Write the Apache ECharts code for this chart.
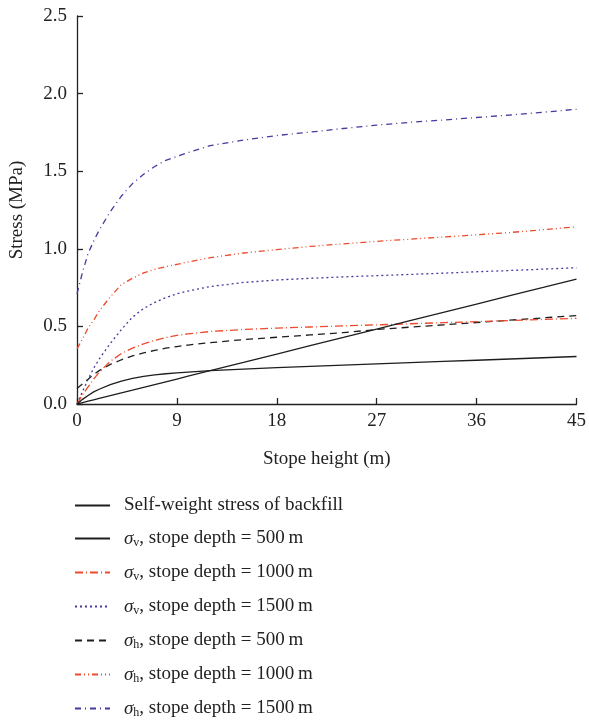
<!DOCTYPE html>
<html>
<head>
<meta charset="utf-8">
<script src="https://cdn.jsdelivr.net/npm/echarts@6/dist/echarts.min.js"></script>
<style>
html,body{margin:0;padding:0;background:#fff;}
#chart{width:589px;height:720px;}
</style>
</head>
<body>
<div id="chart"></div>
<script>
// Stope height (m)
const heights = [0, 0.5, 1, 1.5, 2, 3, 4, 5, 6, 7, 8, 9, 10, 12, 15, 18, 21, 24, 27, 30, 33, 36, 39, 42, 45];
// Stress (MPa)
const selfWeight = [0, 0.009, 0.018, 0.027, 0.036, 0.054, 0.072, 0.089, 0.107, 0.125, 0.143, 0.161, 0.179, 0.215, 0.268, 0.322, 0.376, 0.429, 0.483, 0.537, 0.590, 0.644, 0.698, 0.751, 0.805];
const sv500  = [0, 0.030, 0.055, 0.078, 0.095, 0.125, 0.148, 0.165, 0.178, 0.188, 0.195, 0.201, 0.206, 0.215, 0.225, 0.235, 0.243, 0.250, 0.258, 0.266, 0.274, 0.282, 0.290, 0.298, 0.306];
const sv1000 = [0, 0.060, 0.110, 0.160, 0.205, 0.275, 0.325, 0.360, 0.388, 0.410, 0.428, 0.442, 0.452, 0.467, 0.480, 0.489, 0.496, 0.503, 0.510, 0.517, 0.524, 0.531, 0.538, 0.545, 0.552];
const sv1500 = [0, 0.080, 0.160, 0.230, 0.290, 0.390, 0.480, 0.560, 0.615, 0.655, 0.685, 0.710, 0.728, 0.757, 0.783, 0.799, 0.810, 0.819, 0.827, 0.835, 0.843, 0.852, 0.860, 0.869, 0.878];
const sh500  = [0.100, 0.130, 0.160, 0.190, 0.215, 0.255, 0.285, 0.310, 0.330, 0.345, 0.360, 0.370, 0.380, 0.395, 0.415, 0.430, 0.445, 0.460, 0.480, 0.495, 0.510, 0.525, 0.540, 0.555, 0.570];
const sh1000 = [0.355, 0.420, 0.490, 0.540, 0.600, 0.690, 0.770, 0.810, 0.845, 0.868, 0.885, 0.900, 0.915, 0.943, 0.973, 0.995, 1.015, 1.032, 1.048, 1.062, 1.076, 1.090, 1.105, 1.123, 1.142];
const sh1500 = [0.710, 0.850, 0.970, 1.050, 1.120, 1.240, 1.340, 1.420, 1.480, 1.530, 1.570, 1.595, 1.620, 1.665, 1.700, 1.730, 1.752, 1.775, 1.797, 1.815, 1.830, 1.846, 1.862, 1.880, 1.899];
// X and Y tick labels
const xTicks = [0, 9, 18, 27, 36, 45];
const yTicks = ['0.0', '0.5', '1.0', '1.5', '2.0', '2.5'];

const seriesNames = ['self', 'sv500', 'sv1000', 'sv1500', 'sh500', 'sh1000', 'sh1500'];
const legendTexts = {
  self: 'Self-weight stress of backfill',
  sv500: '{sig|σ}{sub|v}, stope depth = 500\u2009m',
  sv1000: '{sig|σ}{sub|v}, stope depth = 1000\u2009m',
  sv1500: '{sig|σ}{sub|v}, stope depth = 1500\u2009m',
  sh500: '{sig|σ}{sub|h}, stope depth = 500\u2009m',
  sh1000: '{sig|σ}{sub|h}, stope depth = 1000\u2009m',
  sh1500: '{sig|σ}{sub|h}, stope depth = 1500\u2009m'
};
const seriesValues = [selfWeight, sv500, sv1000, sv1500, sh500, sh1000, sh1500];

const BLACK = '#1e1e1e', RED = '#ee4a2c', BLUE = '#433b9e';
const styles = [
  {color: BLACK, type: 'solid'},
  {color: BLACK, type: 'solid'},
  {color: RED, type: [8, 3, 1, 3]},
  {color: BLUE, type: [2, 3]},
  {color: BLACK, type: [7, 5]},
  {color: RED, type: [6, 3, 1, 3, 1, 3]},
  {color: BLUE, type: [6, 4, 1, 4]}
];

const FONT = '"Liberation Serif", "DejaVu Serif", serif';

const series = seriesNames.map((n, i) => ({
  name: n,
  type: 'line',
  smooth: false,
  showSymbol: false,
  symbol: 'none',
  data: heights.map((h, k) => [h, seriesValues[i][k]]),
  lineStyle: {color: styles[i].color, type: styles[i].type, width: 1.3},
  itemStyle: {color: styles[i].color},
  z: 10 - i
}));

const chart = echarts.init(document.getElementById('chart'), null, {renderer: 'canvas'});
chart.setOption({
  animation: false,
  backgroundColor: '#fff',
  textStyle: {fontFamily: FONT},
  grid: {left: 75, right: 12, top: 16, bottom: 316},
  xAxis: {
    type: 'value', min: 0, max: 45, interval: 9,
    name: 'Stope height (m)', nameLocation: 'middle', nameGap: 46,
    nameTextStyle: {fontFamily: FONT, fontSize: 19, color: '#222'},
    axisLine: {lineStyle: {color: '#222', width: 1.3}},
    axisTick: {inside: true, length: 6, lineStyle: {color: '#222', width: 1.3}},
    axisLabel: {fontFamily: FONT, fontSize: 19, color: '#222', margin: 8,
      formatter: v => (xTicks.indexOf(v) >= 0 ? String(v) : '')},
    splitLine: {show: false}
  },
  yAxis: {
    type: 'value', min: 0, max: 2.5, interval: 0.5,
    name: 'Stress (MPa)', nameLocation: 'middle', nameGap: 50,
    nameTextStyle: {fontFamily: FONT, fontSize: 19, color: '#222'},
    axisLine: {show: true, lineStyle: {color: '#222', width: 1.3}},
    axisTick: {show: true, inside: true, length: 6, lineStyle: {color: '#222', width: 1.3}},
    axisLabel: {fontFamily: FONT, fontSize: 19, color: '#222', margin: 10,
      formatter: v => yTicks[Math.round(v / 0.5)]},
    splitLine: {show: false}
  },
  legend: {
    orient: 'vertical', left: 74, top: 496, height: 240, padding: 0,
    data: seriesNames,
    itemWidth: 35, itemHeight: 14, itemGap: 14,
    itemStyle: {opacity: 0},
    formatter: n => legendTexts[n],
    textStyle: {
      fontFamily: FONT, fontSize: 19, color: '#222', padding: [0, 0, 0, 9],
      rich: {
        sig: {fontFamily: FONT, fontSize: 19, fontStyle: 'italic', color: '#222'},
        sub: {fontFamily: FONT, fontSize: 12, color: '#222', padding: [9, 0, 0, 0]}
      }
    }
  },
  series: series
});
</script>
</body>
</html>
